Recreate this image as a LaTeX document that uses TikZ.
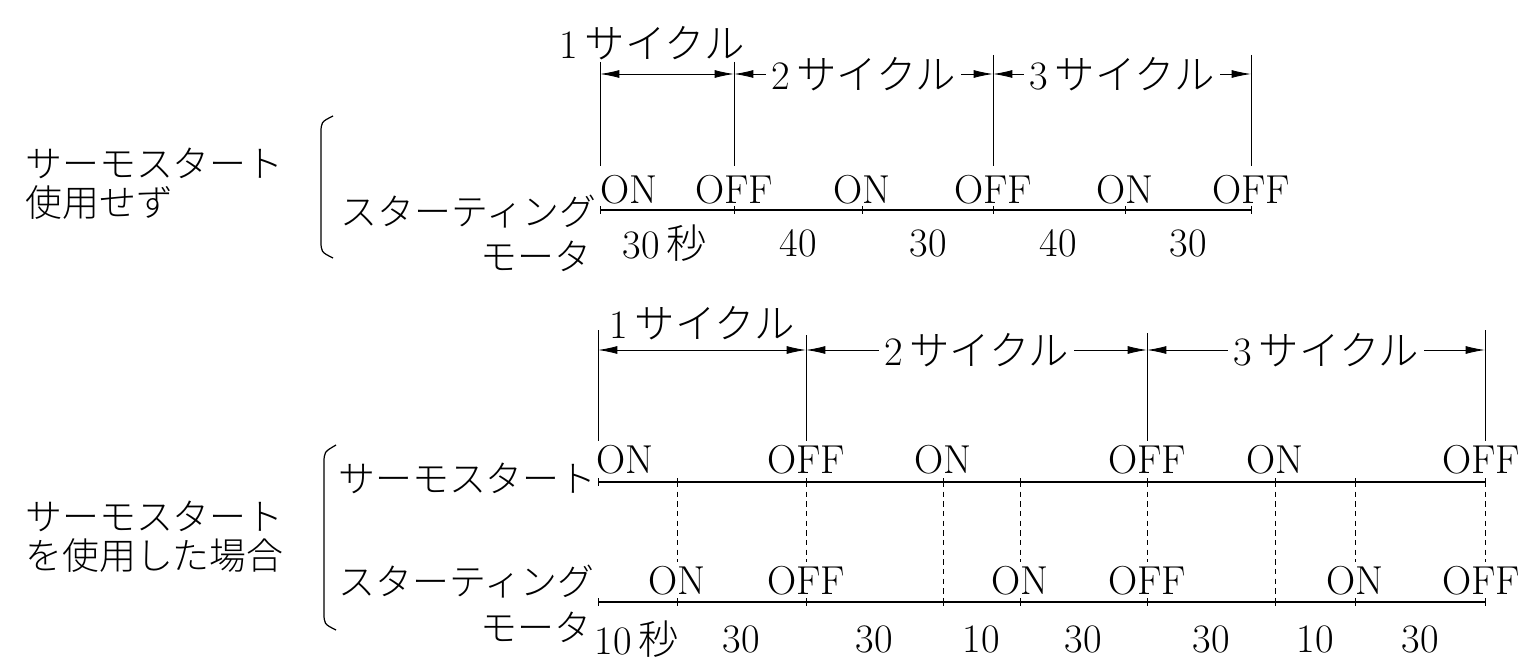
\documentclass[tikz,border=0pt]{standalone}
\usepackage{fontspec}
\usetikzlibrary{arrows.meta}
\newfontfamily\jp{Noto Sans CJK JP}[UprightFont=* Light]

\tikzset{
  lbl/.style={font=\fontsize{23}{24}\selectfont,inner sep=0pt},
  jlbl/.style={font=\jp\fontsize{21}{22}\selectfont,inner sep=0pt},
  tl/.style={line width=1.3pt},
  vline/.style={line width=0.5pt},
  dim/.style={line width=0.5pt,{Latex[length=11pt,width=4.5pt]}-{Latex[length=11pt,width=4.5pt]}},
  guide/.style={line width=0.5pt,dash pattern=on 3pt off 2.5pt},
  brk/.style={line width=0.7pt},
}

\begin{document}
\begin{tikzpicture}[x=0.02cm,y=-0.02cm]
\useasboundingbox (0,0) rectangle (1524,662);

% --- without thermostart
\node[jlbl,anchor=west,align=left] (nouse) at (25,184) {サーモスタート\\使用せず};
\draw[brk] (333,116) .. controls (321,122) .. (321,134) -- (321,240) .. controls (321,252) .. (333,258);
\node[jlbl,anchor=east] (sm1) at (597,212) {スターティング};
\node[jlbl,anchor=east] (mo1) at (592,256) {モータ};

\foreach \n/\x in {0/600,1/734,2/862,3/993,4/1125,5/1251}
{
  \coordinate (a\n) at (\x,210);
  \draw[vline] (\x,206) -- (\x,214);
}
\draw[tl] (a0) -- (a5);

\node[lbl,anchor=south west] (ua0) at (600,204) {ON};
\foreach \n/\x/\t in {1/734/OFF,2/862/ON,3/993/OFF,4/1125/ON,5/1251/OFF}
  \node[lbl,anchor=south] (ua\n) at (\x,204) {\t};

\node[lbl] (da1) at (665,243) {30\,{\jp 秒}};
\foreach \n/\x/\t in {2/798/40,3/928/30,4/1058/40,5/1188/30}
  \node[lbl] (da\n) at (\x,243) {\t};

% cycles
\foreach \n/\k/\x/\y in {0/0/600/62,1/1/734/62,2/3/993/55,3/5/1251/55}
{
  \coordinate (ca\n) at (\x,\y);
  \coordinate (pa\n) at (\x,74);
  \draw[vline,shorten >=5pt] (ca\n) -- (ca\n |- ua\k.north);
}
\node[lbl] (cy1) at (652,43) {1\,{\jp サイクル}};
\draw[dim] (pa0) -- (pa1);
\draw[dim] (pa1) -- node[lbl,fill=white,inner xsep=3pt] (cy2) {2\,{\jp サイクル}} (pa2);
\draw[dim] (pa2) -- node[lbl,fill=white,inner xsep=3pt] (cy3) {3\,{\jp サイクル}} (pa3);

% --- with thermostart
\node[jlbl,anchor=west,align=left] (use) at (25,537) {サーモスタート\\を使用した場合};
\draw[brk] (336,445) .. controls (324,452) .. (324,464) -- (324,612) .. controls (324,624) .. (336,630);
\node[jlbl,anchor=east] (th2) at (597,478) {サーモスタート};
\node[jlbl,anchor=east] (sm2) at (595,582) {スターティング};
\node[jlbl,anchor=east] (mo2) at (592,627) {モータ};

\foreach \n/\x in {0/598,1/677,2/806,3/943,4/1020,5/1147,6/1275,7/1355,8/1485}
{
  \coordinate (b\n) at (\x,482);
  \coordinate (m\n) at (\x,602);
  \draw[vline] (\x,478) -- (\x,486);
  \draw[vline] (\x,598) -- (\x,606);
}
\draw[tl] (b0) -- (b8);
\draw[tl] (m0) -- (m8);

\node[lbl,anchor=south west] (ut0) at (596,474) {ON};
\foreach \n/\x/\t in {2/806/OFF,3/943/ON,5/1147/OFF,6/1275/ON,8/1481/OFF}
  \node[lbl,anchor=south] (ut\n) at (\x,474) {\t};
\foreach \n/\x/\t in {1/677/ON,2/806/OFF,4/1020/ON,5/1147/OFF,7/1355/ON,8/1481/OFF}
  \node[lbl,anchor=south] (um\n) at (\x,595) {\t};

\foreach \n in {1,2,4,5,7,8}
  \draw[guide,shorten >=2pt] (b\n) -- (b\n |- um\n.north);
\foreach \n in {3,6}
  \draw[guide] (b\n) -- (m\n);

\node[lbl] (dm1) at (637,639) {10\,{\jp 秒}};
\foreach \n/\x/\t in {2/741/30,3/874/30,4/981/10,5/1083/30,6/1211/30,7/1315/10,8/1420/30}
  \node[lbl] (dm\n) at (\x,639) {\t};

% cycles
\foreach \n/\k/\x/\y in {0/0/598/330,1/2/806/335,2/5/1147/333,3/8/1485/330}
{
  \coordinate (cb\n) at (\x,\y);
  \coordinate (pb\n) at (\x,350);
  \draw[vline,shorten >=2pt] (cb\n) -- (cb\n |- ut\k.north);
}
\node[lbl] (cz1) at (702,323) {1\,{\jp サイクル}};
\draw[dim] (pb0) -- (pb1);
\draw[dim] (pb1) -- node[lbl,fill=white,inner xsep=3pt] (cz2) {2\,{\jp サイクル}} (pb2);
\draw[dim] (pb2) -- node[lbl,fill=white,inner xsep=3pt,pos=0.53] (cz3) {3\,{\jp サイクル}} (pb3);

\end{tikzpicture}
\end{document}
